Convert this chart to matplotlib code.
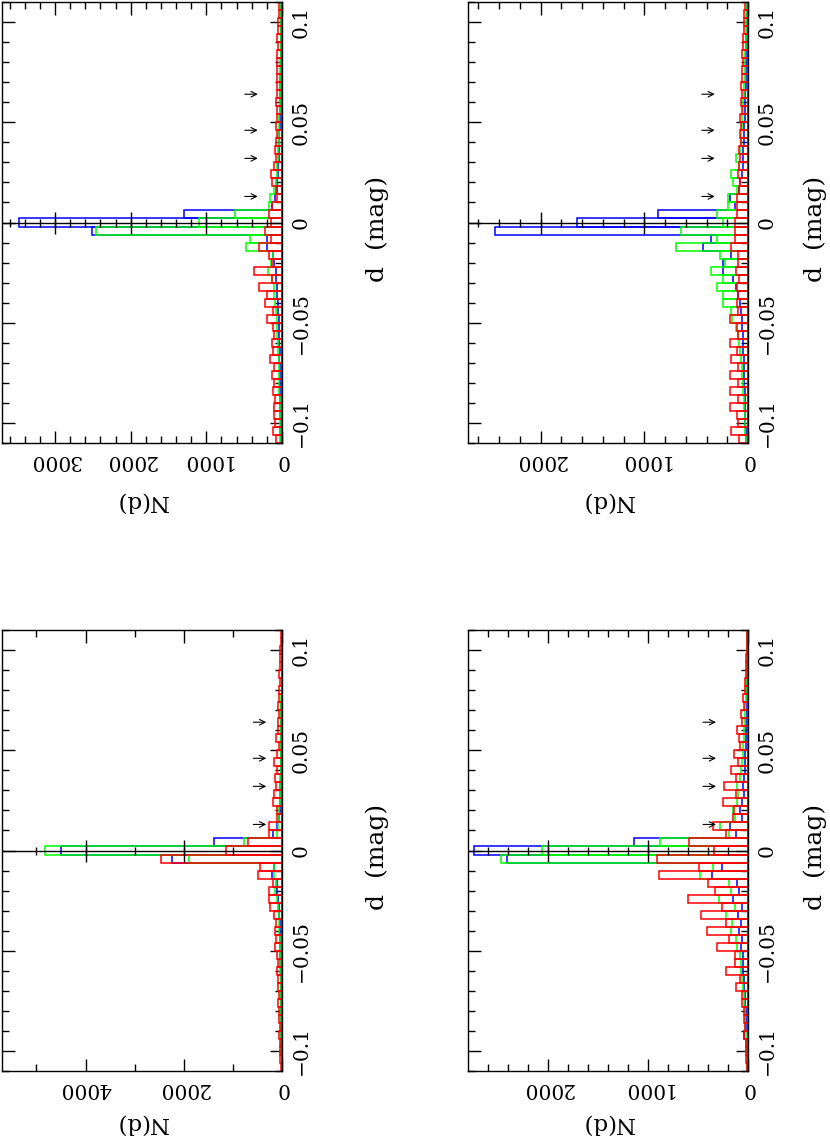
import numpy as np
import matplotlib
matplotlib.use('Agg')
import matplotlib.pyplot as plt

plt.rcParams['font.family'] = ['DejaVu Serif']

# bin centres in d (mag), bin width 0.004
d_bins = np.arange(-27, 28) * 0.004
arrow_d = [0.013, 0.032, 0.046, 0.064]

# ---- top left panel ----
tl_blue = [15, 20, 15, 20, 25, 20, 25, 30, 25, 30, 35, 30, 40, 35,
           40, 45, 50, 55, 60, 70, 75, 80, 100, 120, 200, 200, 2510,
           3470,
           1300, 130, 90, 70, 60, 55, 50, 45, 40, 40, 35, 30, 30, 25, 25, 20, 20, 20,
           15, 15, 15, 10, 10, 10, 10, 10, 10]
tl_green = [20, 25, 20, 25, 30, 30, 35, 35, 40, 40, 45, 50, 55, 60, 60, 70, 80, 90,
            100, 110, 130, 180, 150, 120, 480, 420, 2460,
            1100,
            620, 170, 160, 100, 80, 70, 60, 55, 50, 45, 40, 35, 35, 30, 30, 25, 25, 20,
            20, 20, 15, 15, 15, 10, 10, 10, 10]
tl_red = [80, 120, 90, 100, 110, 90, 120, 100, 130, 110, 160, 120, 130, 100, 120,
          200, 120, 230, 200, 300, 130, 370, 130, 170, 310, 140, 230,
          150,
          170, 130, 60, 80, 130, 140, 110, 80, 90, 80, 70, 80, 70, 70, 80, 60, 70, 60,
          70, 60, 60, 50, 60, 50, 50, 40, 40]

# ---- top right panel ----
tr_blue = [20, 20, 25, 25, 30, 30, 30, 35, 35, 40, 40, 45, 45, 50,
           55, 60, 70, 80, 100, 120, 140, 240, 240, 160, 430, 360, 2440,
           1650,
           870, 125, 170, 90, 80, 60, 50, 50, 45, 40, 35, 35, 30, 30, 25, 25, 20, 20,
           20, 15, 15, 15, 15, 10, 10, 10, 10]
tr_green = [20, 25, 30, 30, 35, 40, 45, 50, 55, 60, 70, 80, 90, 100, 120, 150, 160,
            240, 240, 300, 240, 360, 220, 270, 690, 300, 650,
            240,
            295, 190, 190, 110, 140, 160, 90, 120, 80, 70, 65, 60, 55, 50, 45, 40, 35,
            30, 30, 25, 25, 20, 20, 15, 15, 15, 10]
tr_red = [90, 165, 100, 110, 170, 100, 170, 100, 170, 100, 160, 110, 170, 100, 110,
          170, 100, 110, 100, 110, 90, 120, 100, 100, 160, 125, 125,
          125,
          110, 110, 110, 90, 80, 100, 90, 80, 90, 70, 80, 70, 80, 60, 70, 60, 70, 60,
          60, 50, 60, 50, 50, 40, 40, 40, 30]

# ---- bottom left panel ----
bl_blue = [10, 10, 10, 15, 15, 15, 20, 20, 20, 25, 25, 30, 30, 35, 35, 40, 40, 45,
           50, 55, 60, 80, 100, 110, 210, 160, 2240,
           4500,
           1390, 180, 100, 60, 50, 45, 40, 35, 30, 30, 25, 25, 20, 20, 20, 15, 15, 15,
           10, 10, 10, 10, 10, 10, 5, 5, 5]
bl_green = [10, 10, 15, 15, 15, 20, 20, 20, 25, 25, 30, 30, 35, 35, 40, 45, 50, 55,
            60, 70, 80, 100, 140, 120, 160, 170, 1900,
            4820,
            770, 100, 90, 70, 60, 50, 45, 40, 35, 30, 30, 25, 25, 20, 20, 20, 15, 15,
            15, 10, 10, 10, 10, 10, 5, 5, 5]
bl_red = [30, 40, 40, 45, 60, 50, 60, 55, 80, 70, 80, 75, 100, 90, 110, 150, 120, 140,
          130, 165, 245, 260, 260, 180, 480, 450, 2470,
          1130,
          690, 260, 260, 100, 110, 190, 160, 120, 140, 110, 160, 110, 60, 130, 80, 90,
          70, 80, 60, 70, 50, 60, 40, 50, 40, 30, 30]

# ---- bottom right panel ----
br_blue = [10, 15, 15, 20, 45, 20, 25, 25, 30, 35, 40, 40, 50, 50, 55, 70, 60, 95,
           70, 100, 60, 150, 90, 110, 360, 260, 2410,
           2740,
           1140, 120, 180, 60, 80, 60, 40, 50, 40, 35, 30, 30, 25, 25, 20, 20, 15, 15,
           15, 10, 10, 10, 10, 10, 5, 5, 5]
br_green = [15, 15, 20, 20, 25, 30, 30, 35, 40, 45, 50, 60, 70, 75, 80, 110, 120, 170,
            160, 220, 130, 290, 170, 190, 480, 350, 2470,
            2060,
            880, 190, 280, 130, 150, 110, 100, 110, 80, 70, 60, 55, 50, 45, 40, 35, 30,
            30, 25, 20, 20, 15, 15, 10, 10, 10, 10]
br_red = [15, 20, 20, 25, 45, 30, 40, 40, 65, 60, 120, 80, 220, 130, 130, 310, 190,
          410, 220, 470, 260, 600, 330, 400, 890, 490, 910,
          340,
          590, 220, 350, 150, 140, 250, 120, 240, 120, 170, 100, 140, 80, 90, 110, 60,
          75, 40, 55, 30, 30, 25, 20, 20, 15, 15, 15]

# labelled N ticks per panel
tl_xticks, tr_xticks = [0, 1000, 2000, 3000], [0, 1000, 2000]
bl_xticks, br_xticks = [0, 2000, 4000], [0, 1000, 2000]
d_ticks = [-0.1, -0.05, 0, 0.05, 0.1]
d_labels = ['\u22120.1', '\u22120.05', '0', '0.05', '0.1']

W, H = 830, 1143
fig = plt.figure(figsize=(W / 100, H / 100), dpi=100)


def new_panel(rect, blue, green, red, nmax, xticks, minor, label_x, label_y):
    x0, y0, x1, y1 = rect
    ax = fig.add_axes([x0 / W, 1 - y1 / H, (x1 - x0) / W, (y1 - y0) / H])
    for vals, col in ((blue, '#0000ff'), (green, '#00ff00'), (red, '#ff0000')):
        ax.barh(d_bins, vals, height=0.004, fill=False, edgecolor=col,
                linewidth=1.1, zorder=2)
    ax.set_xlim(nmax, 0)
    ax.set_ylim(-0.11, 0.11)

    # zero line with its own ticks
    ax.axhline(0, color='k', lw=1, zorder=3)
    small = np.arange(minor, nmax, minor)
    ax.plot(small, np.zeros_like(small), ls='', marker='|', ms=6, mew=1,
            color='k', zorder=3)
    big = [t for t in xticks if 0 < t < nmax]
    ax.plot(big, np.zeros(len(big)), ls='', marker='|', ms=16, mew=1,
            color='k', zorder=3)

    ax.set_xticks(xticks, labels=[str(t) for t in xticks])
    ax.set_xticks(small, minor=True)
    ax.set_yticks(d_ticks, labels=d_labels)
    ax.set_yticks(np.arange(-0.11, 0.111, 0.01), minor=True)
    ax.tick_params(which='both', direction='in', top=True, bottom=True,
                   left=True, right=True, labelleft=False, labelright=True,
                   width=1, labelsize=14.5)
    ax.tick_params(which='major', length=9)
    ax.tick_params(which='minor', length=5)
    ax.tick_params(axis='x', labelrotation=180, pad=6)
    ax.tick_params(axis='y', labelrotation=90, pad=7)
    for lab in ax.get_yticklabels():
        lab.set_va('center')
    for s in ax.spines.values():
        s.set_linewidth(1)

    for d in arrow_d:
        ax.annotate('', xy=(320, d), xytext=(-13, 0), textcoords='offset pixels',
                    arrowprops=dict(arrowstyle='->', color='k', lw=0.8,
                                    shrinkA=0, shrinkB=0))

    ax.text(0.5, label_y, 'N(d)', transform=ax.transAxes, rotation=180,
            ha='center', va='center', fontsize=16.5)
    ax.text(label_x, 0.485, 'd  (mag)', transform=ax.transAxes, rotation=90,
            ha='center', va='center', fontsize=18)
    return ax


new_panel((2, 2, 282, 443), tl_blue, tl_green, tl_red, 3700, tl_xticks, 200,
          1.34, -59 / 441)
new_panel((468, 2, 748, 443), tr_blue, tr_green, tr_red, 2700, tr_xticks, 200,
          1.24, -59 / 441)
new_panel((2, 630, 282, 1071), bl_blue, bl_green, bl_red, 5700, bl_xticks, 1000,
          1.34, -53 / 441)
new_panel((468, 630, 748, 1071), br_blue, br_green, br_red, 2800, br_xticks, 200,
          1.24, -53 / 441)

fig.savefig('out.png', dpi=100)
